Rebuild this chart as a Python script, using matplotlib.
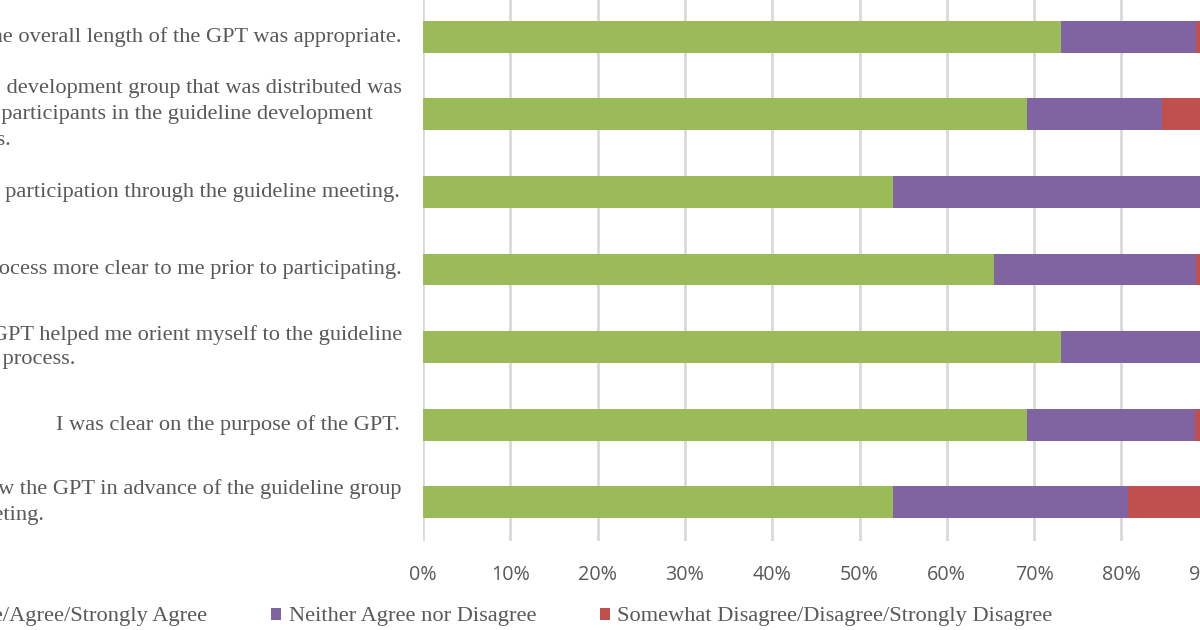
import matplotlib
matplotlib.use("Agg")
import matplotlib.pyplot as plt
from matplotlib.patches import Patch
from matplotlib.ticker import FuncFormatter

# ---- data ----
labels = [
    ["The overall length of the GPT was appropriate."],
    ["The information about the panel  development group that was distributed was",
     "helpful in introducing me to other participants in the guideline development",
     "process."],
    ["The GPT prepared me for  participation through the guideline meeting."],
    ["The GPT made the guideline process more clear to me prior to participating."],
    ["Reviewing the GPT helped me orient myself to the guideline",
     "development process."],
    ["I was clear on the purpose of the GPT."],
    ["I had enough time to review the GPT in advance of the guideline group",
     "meeting."],
]
agree = [73.1, 69.2, 53.8, 65.4, 73.1, 69.2, 53.8]
neutral = [15.4, 15.4, 42.3, 23.1, 23.1, 19.2, 26.9]
disagree = [11.5, 15.4, 3.9, 11.5, 3.8, 11.6, 19.3]
series_names = ["Somewhat Agree/Agree/Strongly Agree",
                "Neither Agree nor Disagree",
                "Somewhat Disagree/Disagree/Strongly Disagree"]
xticks = [0, 10, 20, 30, 40, 50, 60, 70, 80, 90, 100]

# ---- style ----
colors = ["#9BBB59", "#8064A2", "#C0504D"]
grid_c = "#D9D9D9"
text_c = "#595959"
serif = ["Liberation Serif", "DejaVu Serif"]

# per-line layout of the category labels: (right-edge offset px, vertical offset px)
line_layout = [
    [(-21, 0)],
    [(-21, 26), (-50, 0), (-412, -26)],
    [(-23, 0)],
    [(-21, 0)],
    [(-21, 12.5), (-348, -12.5)],
    [(-23, 0)],
    [(-21, 13.5), (-378, -13.5)],
]

W, H = 1200, 630
fig = plt.figure(figsize=(W / 100, H / 100), dpi=100)
ax = fig.add_axes([423 / W, (H - 541) / H, 873 / W, 543 / H])

y = list(range(len(agree)))
left2 = [a for a in agree]
left3 = [a + n for a, n in zip(agree, neutral)]
bh = 0.41
ax.barh(y, agree, height=bh, color=colors[0], zorder=3)
ax.barh(y, neutral, left=left2, height=bh, color=colors[1], zorder=3)
ax.barh(y, disagree, left=left3, height=bh, color=colors[2], zorder=3)

ax.set_ylim(len(agree) - 0.5, -0.5)
ax.set_xlim(0, 100)
ax.set_xticks(xticks)
ax.xaxis.set_major_formatter(FuncFormatter(lambda v, p: f"{v:.0f}%"))
ax.set_yticks([])
ax.grid(axis="x", color=grid_c, linewidth=2, zorder=0)
for s in ax.spines.values():
    s.set_visible(False)
ax.tick_params(axis="x", length=0, pad=17, labelsize=14.2, labelcolor=text_c)
for t in ax.get_xticklabels():
    t.set_fontfamily(["Open Sans", "DejaVu Sans"])

for i, (lines, lay) in enumerate(zip(labels, line_layout)):
    for txt, (dx, dy) in zip(lines, lay):
        ax.annotate(txt, xy=(0, i), xycoords="data", xytext=(dx, dy),
                    textcoords="offset pixels", ha="right", va="center",
                    fontsize=16.1, color=text_c, family=serif, annotation_clip=False)

handles = [Patch(facecolor=c, edgecolor="none") for c in colors]
leg = fig.legend(handles, series_names, loc="center left",
                 bbox_to_anchor=(-168 / W, 1 - 617 / H), ncol=3, frameon=False,
                 borderpad=0, borderaxespad=0, handlelength=0.45, handleheight=0.45,
                 handletextpad=0.32, columnspacing=2.86,
                 prop={"family": serif, "size": 16.1})
for t in leg.get_texts():
    t.set_color(text_c)

fig.savefig("out.png", dpi=100)
